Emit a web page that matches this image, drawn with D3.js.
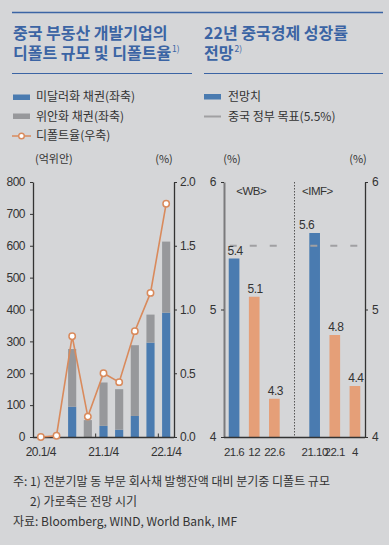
<!DOCTYPE html>
<html>
<head>
<meta charset="utf-8">
<script src="https://cdn.jsdelivr.net/npm/d3@7"></script>
<style>
  body { margin: 0; background: #d5d6d8; }
  svg { display: block; }
</style>
</head>
<body>
<div id="chart"></div>
<script>
// ---- data: left panel (quarterly) ----
const quarters = ["20.1Q", "20.2Q", "20.3Q", "20.4Q", "21.1Q", "21.2Q", "21.3Q", "21.4Q", "22.1Q"]
const usdBonds = [0, 0, 95, 0, 35, 23, 66, 296, 390]        // 억위안
const cnyBonds = [0, 0, 181, 53, 136, 127, 222, 88, 223]    // 억위안
const defaultRate = [0, 0.01, 0.79, 0.16, 0.50, 0.43, 0.83, 1.13, 1.83]  // %
const leftTicks = [0, 100, 200, 300, 400, 500, 600, 700, 800]
const rightTicks = [0, 0.5, 1.0, 1.5, 2.0]
const xLabelQuarters = ["20.1Q", "21.1Q", "22.1Q"]
const xLabels = ["20.1/4", "21.1/4", "22.1/4"]
const yearBreaks = ["21.1Q", "22.1Q"]

// ---- data: right panel (2022 growth forecasts) ----
const forecastSlots = ["21.6", "12", "22.6", "", "21.10", "22.1", "4"]
const forecastValues = [5.4, 5.1, 4.3, null, 5.6, 4.8, 4.4]
const forecastLatest = [true, false, false, null, true, false, false]
const groupNames = ["<WB>", "<IMF>"]
const govTarget = 5.5
const growthTicks = [4, 5, 6]

const W = 389, H = 545
const blue = "#4a7bb0", grayBar = "#97989b", orange = "#d98a5c", salmon = "#e59f78"
const titleBlue = "#3b64a4"
const krFont = "'Noto Sans CJK KR', 'Noto Sans', sans-serif"
const numFont = "'Liberation Sans', Arial, sans-serif"

var svg = d3.select("#chart").append("svg").attr("width", W).attr("height", H)
svg.append("rect").attr("width", W).attr("height", H).attr("fill", "#d5d6d8")

// number text helper: a bit tighter than plain Liberation Sans
function num(sel, size) {
  sel.attr("font-family", numFont).attr("font-size", size || 11.5)
     .attr("letter-spacing", -0.5).attr("fill", "#333")
  return sel
}

// header rules
svg.append("line").attr("x1", 12).attr("x2", 383).attr("y1", 12.5).attr("y2", 12.5)
   .attr("stroke", titleBlue).attr("stroke-width", 1.4)
svg.append("line").attr("x1", 12).attr("x2", 192).attr("y1", 73.5).attr("y2", 73.5)
   .attr("stroke", titleBlue).attr("stroke-width", 1.2)
svg.append("line").attr("x1", 204).attr("x2", 383).attr("y1", 73.5).attr("y2", 73.5)
   .attr("stroke", titleBlue).attr("stroke-width", 1.2)

// titles (superscript as its own text, placed after the last line)
function title(x, lines, sup) {
  var last
  lines.forEach(function(s, i) {
    last = svg.append("text").attr("x", x).attr("y", 39 + i * 20)
       .attr("font-family", krFont).attr("font-weight", "bold")
       .attr("font-size", 16).attr("fill", titleBlue).text(s)
  })
  var w = last.node().getComputedTextLength()
  svg.append("text").attr("x", x + w + 1).attr("y", 39 + (lines.length - 1) * 20 - 7)
     .attr("font-family", krFont).attr("font-size", 8.5).attr("fill", titleBlue).text(sup)
}
title(13, ["중국 부동산 개발기업의", "디폴트 규모 및 디폴트율"], "1)")
title(204, ["22년 중국경제 성장률", "전망"], "2)")

// legends
function legendText(x, y, s) {
  svg.append("text").attr("x", x).attr("y", y).attr("dy", "0.35em")
     .attr("font-family", krFont).attr("font-size", 12).attr("fill", "#333").text(s)
}
svg.append("rect").attr("x", 13).attr("y", 94.5).attr("width", 17).attr("height", 5.5).attr("fill", blue)
legendText(36, 97, "미달러화 채권(좌축)")
svg.append("rect").attr("x", 13).attr("y", 113.5).attr("width", 17).attr("height", 5.5).attr("fill", grayBar)
legendText(36, 116.5, "위안화 채권(좌축)")
svg.append("line").attr("x1", 12).attr("x2", 31).attr("y1", 136).attr("y2", 136)
   .attr("stroke", orange).attr("stroke-width", 1.5)
svg.append("circle").attr("cx", 21.5).attr("cy", 136).attr("r", 2.8)
   .attr("fill", "#fff").attr("stroke", orange).attr("stroke-width", 1.4)
legendText(36, 136, "디폴트율(우축)")

svg.append("rect").attr("x", 204).attr("y", 94).attr("width", 17).attr("height", 5.5).attr("fill", blue)
legendText(228, 97, "전망치")
svg.append("line").attr("x1", 204).attr("x2", 221).attr("y1", 116.5).attr("y2", 116.5)
   .attr("stroke", "#a0a0a2").attr("stroke-width", 2)
legendText(228, 116.5, "중국 정부 목표(5.5%)")

// ================= left chart =================
var yL = d3.scaleLinear().domain([0, 800]).range([437, 182])
var yR = d3.scaleLinear().domain([0, 2]).range([437, 182])
var x = d3.scaleBand().domain(quarters).range([33, 174]).paddingInner(0.48).paddingOuter(0.24)

var axL = svg.append("g").attr("transform", "translate(33,0)")
   .call(d3.axisLeft(yL).tickValues(leftTicks).tickSize(3).tickSizeOuter(0).tickPadding(5))
var axR = svg.append("g").attr("transform", "translate(174,0)")
   .call(d3.axisRight(yR).tickValues(rightTicks).tickFormat(d3.format(".1f")).tickSize(3).tickSizeOuter(0).tickPadding(3))

var stackRows = quarters.map(function(q, i) { return {q: q, usd: usdBonds[i], cny: cnyBonds[i]} })
var stacked = d3.stack().keys(["usd", "cny"])(stackRows)
var barColor = {usd: blue, cny: grayBar}

svg.append("g").selectAll("g")
   .data(stacked)
   .enter().append("g")
   .attr("fill", function(s) { return barColor[s.key] })
   .selectAll("rect")
   .data(function(s) { return s })
   .enter().append("rect")
   .attr("x", function(d) { return x(d.data.q) })
   .attr("width", x.bandwidth())
   .attr("y", function(d) { return yL(d[1]) })
   .attr("height", function(d) { return yL(d[0]) - yL(d[1]) })

// bottom axis of left chart
svg.append("line").attr("x1", 33).attr("x2", 174).attr("y1", 437.5).attr("y2", 437.5)
   .attr("stroke", "#333").attr("stroke-width", 1.5)
svg.append("g").selectAll("line")
   .data(yearBreaks)
   .enter().append("line")
   .attr("x1", function(q) { return x(q) - x.step() * x.paddingInner() / 2 })
   .attr("x2", function(q) { return x(q) - x.step() * x.paddingInner() / 2 })
   .attr("y1", 437).attr("y2", 433.5).attr("stroke", "#333")
num(svg.append("g").selectAll("text")
   .data(xLabelQuarters)
   .enter().append("text")
   .attr("x", function(q) { return x(q) + x.bandwidth() / 2 })
   .attr("y", 456)
   .attr("text-anchor", "middle"), 12)
   .text(function(q, i) { return xLabels[i] })

var line = d3.line()
   .x(function(d, i) { return x(quarters[i]) + x.bandwidth() / 2 })
   .y(function(d) { return yR(d) })
svg.append("path").datum(defaultRate).attr("d", line)
   .attr("fill", "none").attr("stroke", orange).attr("stroke-width", 1.6)
svg.append("g").selectAll("circle")
   .data(defaultRate)
   .enter().append("circle")
   .attr("cx", function(d, i) { return x(quarters[i]) + x.bandwidth() / 2 })
   .attr("cy", function(d) { return yR(d) })
   .attr("r", 3.2)
   .attr("fill", "#fff").attr("stroke", orange).attr("stroke-width", 1.5)

// unit labels
function unit(xx, s, anchor) {
  svg.append("text").attr("x", xx).attr("y", 163).attr("text-anchor", anchor || "start")
     .attr("font-family", krFont).attr("font-size", 11).attr("fill", "#333").text(s)
}
unit(35, "(억위안)")
unit(164, "(%)", "middle")
unit(232, "(%)", "middle")
unit(358, "(%)", "middle")

// ================= right chart =================
var yG = d3.scaleLinear().domain([4, 6]).range([437, 182])
var xG = d3.scaleBand().domain(forecastSlots).range([224, 365]).paddingInner(0.47).paddingOuter(0.235)

var axGL = svg.append("g").attr("transform", "translate(224,0)")
   .call(d3.axisLeft(yG).tickValues(growthTicks).tickFormat(d3.format("d")).tickSize(3).tickSizeOuter(0).tickPadding(5))
var axGR = svg.append("g").attr("transform", "translate(365,0)")
   .call(d3.axisRight(yG).tickValues(growthTicks).tickFormat(d3.format("d")).tickSize(3).tickSizeOuter(0).tickPadding(4))

// style all the y axes
;[axL, axR, axGL, axGR].forEach(function(a) {
  num(a.selectAll("text"), 12)
  a.selectAll("line").attr("stroke", "#333")
  a.select(".domain").attr("stroke", "#333").attr("stroke-width", 1.3)
})
axGL.select(".domain").attr("stroke", "#7a7a7c").attr("stroke-width", 2)

// separator between WB and IMF
var sepX = xG("") + xG.bandwidth() / 2
svg.append("line").attr("x1", sepX).attr("x2", sepX).attr("y1", 182).attr("y2", 437)
   .attr("stroke", "#555").attr("stroke-width", 1).attr("stroke-dasharray", "1.5,1.5")

var gRows = forecastSlots.map(function(s, i) {
  return {slot: s, v: forecastValues[i], latest: forecastLatest[i]}
}).filter(function(d) { return d.v != null })

svg.append("g").selectAll("rect")
   .data(gRows)
   .enter().append("rect")
   .attr("x", function(d) { return xG(d.slot) })
   .attr("width", xG.bandwidth())
   .attr("y", function(d) { return yG(d.v) })
   .attr("height", function(d) { return yG(4) - yG(d.v) })
   .attr("fill", function(d) { return d.latest ? blue : salmon })

// government target, dashed per group
var groupSpans = [[forecastSlots[0], forecastSlots[2]], [forecastSlots[4], forecastSlots[6]]]
svg.append("g").selectAll("line")
   .data(groupSpans)
   .enter().append("line")
   .attr("x1", function(g) { return xG(g[0]) + 1 })
   .attr("x2", function(g) { return xG(g[1]) + xG.bandwidth() })
   .attr("y1", yG(govTarget)).attr("y2", yG(govTarget))
   .attr("stroke", "#a0a0a2").attr("stroke-width", 2).attr("stroke-dasharray", "7,13")

// value labels
num(svg.append("g").selectAll("text")
   .data(gRows)
   .enter().append("text")
   .attr("x", function(d) { return xG(d.slot) + xG.bandwidth() / 2 + (d.slot == "21.10" ? -8 : 1) })
   .attr("y", function(d) { return yG(d.v) - 4 })
   .attr("text-anchor", "middle"), 12)
   .text(function(d) { return d3.format(".1f")(d.v) })

// group names
num(svg.append("g").selectAll("text")
   .data(groupNames)
   .enter().append("text")
   .attr("x", function(g, i) { return i == 0 ? xG(forecastSlots[1]) + xG.bandwidth() / 2 - 3 : xG(forecastSlots[5]) - 12 })
   .attr("y", 195)
   .attr("text-anchor", "middle"), 11.5)
   .text(function(g) { return g })

// bottom axis of right chart
svg.append("line").attr("x1", 224).attr("x2", 365).attr("y1", 437.5).attr("y2", 437.5)
   .attr("stroke", "#333").attr("stroke-width", 1.5)
num(svg.append("g").selectAll("text")
   .data(forecastSlots.filter(function(s) { return s != "" }))
   .enter().append("text")
   .attr("x", function(s) { return xG(s) + xG.bandwidth() / 2 })
   .attr("y", 456)
   .attr("text-anchor", "middle"), 11.5)
   .text(function(s) { return s })

// footnotes
var notes = [
  [13, 486, "주: 1) 전분기말 동 부문 회사채 발행잔액 대비 분기중 디폴트 규모"],
  [30, 506, "2) 가로축은 전망 시기"],
  [13, 526, "자료: Bloomberg, WIND, World Bank, IMF"]
]
svg.append("g").selectAll("text")
   .data(notes)
   .enter().append("text")
   .attr("x", function(n) { return n[0] })
   .attr("y", function(n) { return n[1] })
   .attr("font-family", krFont).attr("font-size", 12).attr("fill", "#333")
   .text(function(n) { return n[2] })
</script>
</body>
</html>
